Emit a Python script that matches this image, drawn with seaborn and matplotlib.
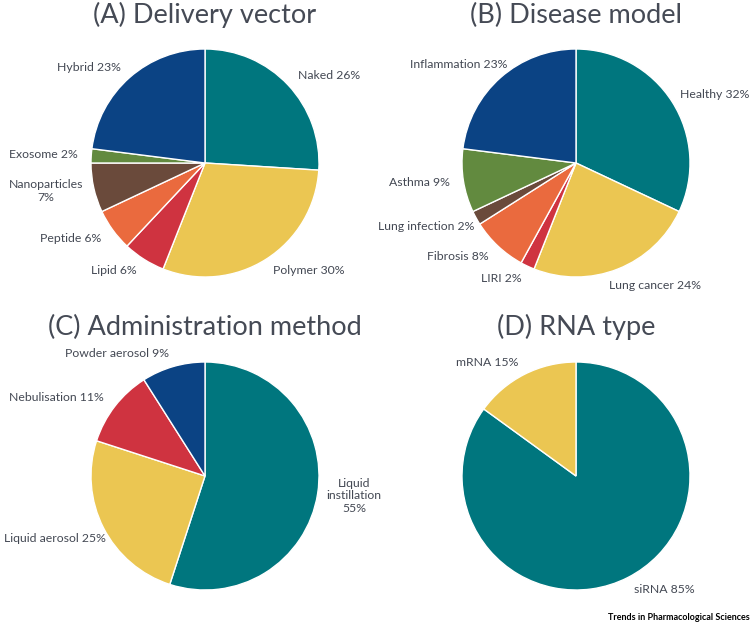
import matplotlib
matplotlib.use("Agg")
import matplotlib.pyplot as plt
import seaborn as sns

sns.set_theme(style="white")
plt.rcParams['font.family'] = ['Lato', 'DejaVu Sans']

# ---- data ----
titles = ["(A) Delivery vector", "(B) Disease model", "(C) Administration method", "(D) RNA type"]

a_labels = ["Naked 26%", "Polymer 30%", "Lipid 6%", "Peptide 6%", "Nanoparticles\n7%", "Exosome 2%", "Hybrid 23%"]
a_values = [26, 30, 6, 6, 7, 2, 23]
a_colors = ["teal", "yellow", "red", "orange", "brown", "green", "navy"]

b_labels = ["Healthy 32%", "Lung cancer 24%", "LIRI 2%", "Fibrosis 8%", "Lung infection 2%", "Asthma 9%", "Inflammation 23%"]
b_values = [32, 24, 2, 8, 2, 9, 23]
b_colors = ["teal", "yellow", "red", "orange", "brown", "green", "navy"]

c_labels = ["Liquid\ninstillation\n55%", "Liquid aerosol 25%", "Nebulisation 11%", "Powder aerosol 9%"]
c_values = [55, 25, 11, 9]
c_colors = ["teal", "yellow", "red", "navy"]

d_labels = ["siRNA 85%", "mRNA 15%"]
d_values = [85, 15]
d_colors = ["teal", "yellow"]

palette = dict(zip(["teal", "yellow", "red", "orange", "brown", "green", "navy"],
                   sns.color_palette(["#00767E", "#EBC652", "#CF3340", "#EA6A3E",
                                      "#6A4A3B", "#628A3F", "#0B4384"])))

# small label nudges (in pie-radius units)
nudges = {
    "Nanoparticles\n7%": (-0.3, 0.0),
    "Liquid\ninstillation\n55%": (0.2, 0.0),
    "Liquid aerosol 25%": (0.13, -0.04),
    "Inflammation 23%": (0.14, 0.02),
    "Lung cancer 24%": (-0.12, -0.035),
    "Healthy 32%": (-0.035, 0.0),
    "Lung infection 2%": (0.09, -0.02),
}

W, H = 752, 623
fig = plt.figure(figsize=(W / 100, H / 100), dpi=100)
fig.patch.set_facecolor("white")

R_PX = 114
BOX = 300
centers = [(205, 163), (576, 163), (205, 476), (576, 476)]
title_y = [15, 15, 327, 327]
panels = [(a_labels, a_values, a_colors), (b_labels, b_values, b_colors),
          (c_labels, c_values, c_colors), (d_labels, d_values, d_colors)]

text_color = "#434853"
for i, ((labels, values, cols), (cx, cy)) in enumerate(zip(panels, centers)):
    ax = fig.add_axes([(cx - BOX / 2) / W, (H - cy - BOX / 2) / H, BOX / W, BOX / H])
    wedges, texts = ax.pie(values, labels=labels, colors=[palette[c] for c in cols],
                           startangle=90, counterclock=False, labeldistance=1.12,
                           wedgeprops=dict(edgecolor="white", linewidth=1.0),
                           textprops=dict(fontsize=8.8, color=text_color))
    for t in texts:
        t.set_multialignment("center")
        if "\n" in t.get_text():
            t.set_ha("center")
        if t.get_text() in nudges:
            x, y = t.get_position()
            ddx, ddy = nudges[t.get_text()]
            t.set_position((x + ddx, y + ddy))
    lim = BOX / 2 / R_PX
    ax.set_xlim(-lim, lim)
    ax.set_ylim(-lim, lim)
    ax.set_aspect("equal")
    ax.axis("off")
    fig.text(cx / W, 1 - title_y[i] / H, titles[i], ha="center", va="center",
             fontsize=19.5, fontweight="normal", color="#454a55")

fig.text(750 / W, 1 - 618 / H, "Trends in Pharmacological Sciences", ha="right", va="center",
         fontsize=6.5, fontweight="bold", color="black", family=["Lato", "DejaVu Sans"])

fig.savefig("out.png", dpi=100, facecolor="white")
